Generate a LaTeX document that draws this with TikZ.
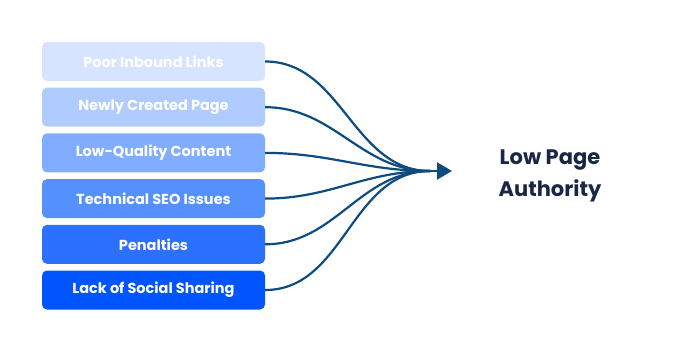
\documentclass[tikz,border=0pt]{standalone}
\usepackage{fontspec}
\setmainfont{Poppins}
\usetikzlibrary{positioning,arrows.meta}

\definecolor{shadeA}{HTML}{D6E4FF}
\definecolor{shadeB}{HTML}{B0CBFF}
\definecolor{shadeC}{HTML}{80ADFF}
\definecolor{shadeD}{HTML}{5590FF}
\definecolor{shadeE}{HTML}{2B70FF}
\definecolor{shadeF}{HTML}{0055FF}
\definecolor{flowblue}{HTML}{0E4C7F}
\definecolor{navytext}{HTML}{1A2744}

\tikzset{
  causebox/.style={rounded corners=5pt, minimum width=223pt, minimum height=39pt,
    text=white, font=\fontsize{14.5}{16}\selectfont\bfseries, inner sep=0pt},
  flow/.style={draw=flowblue, line width=2.2pt}
}

\begin{document}
\begin{tikzpicture}[x=1pt, y=-1pt, node distance=6.3pt]

	\useasboundingbox (0,0) rectangle (700,352);

	\node[causebox, fill=shadeA] (links) at (153.5,61.5) {Poor Inbound Links};
	\node[causebox, fill=shadeB, below=of links] (newpage) {Newly Created Page};
	\node[causebox, fill=shadeC, below=of newpage] (content) {Low-Quality Content};
	\node[causebox, fill=shadeD, below=of content] (seo) {Technical SEO Issues};
	\node[causebox, fill=shadeE, below=of seo] (penalties) {Penalties};
	\node[causebox, fill=shadeF, below=of penalties] (social) {Lack of Social Sharing};

	\coordinate (hub) at (430,171);
	\coordinate (tip) at (452,171);

	\foreach \c in {links, newpage, content, seo, penalties, social}
		\draw[flow] (\c.east) to[out=0, in=180] (hub);

	\draw[flow, -{Triangle[length=15pt, width=17pt]}] (hub) -- (tip);

	\node[text=navytext, align=center, font=\fontsize{21}{32}\selectfont\bfseries] (authority) at (550,176) {Low Page\\Authority};

\end{tikzpicture}
\end{document}
